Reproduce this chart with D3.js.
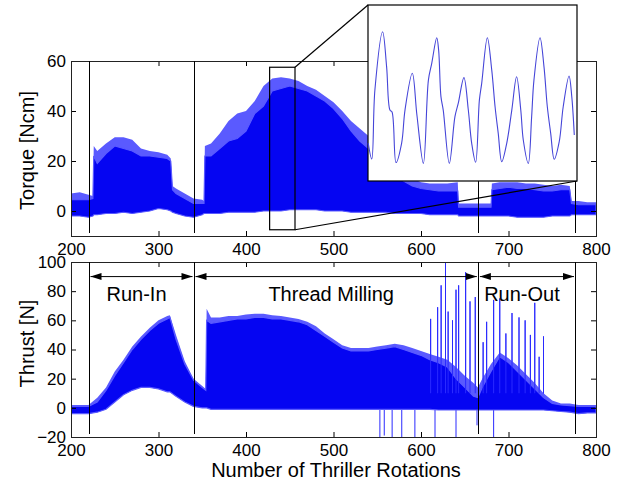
<!DOCTYPE html>
<html>
<head>
<meta charset="utf-8">
<script src="https://cdn.jsdelivr.net/npm/d3@7"></script>
<style>
body { margin: 0; background: #fff; }
svg text { font-family: "Liberation Sans", Arial, sans-serif; fill: #000; }
</style>
</head>
<body>
<div id="chart"></div>
<script>
// torque signal envelope (Ncm)
const torqueRot  = [200, 210, 220, 225, 226, 230, 240, 250, 260, 270, 280, 290, 300, 310, 314, 316, 320, 330, 340, 350, 352, 353, 360, 370, 380, 390, 400, 410, 420, 430, 440, 450, 460, 470, 480, 490, 500, 510, 520, 530, 540, 550, 560, 570, 580, 590, 600, 610, 620, 630, 642, 643, 660, 670, 680, 681, 690, 700, 710, 720, 730, 740, 750, 760, 770, 772, 780, 790, 800];
const torqueHi   = [4.5, 4.5, 4.5, 5, 22, 19, 23, 26, 25, 24, 22, 22, 21.5, 21, 20, 8.5, 7, 5, 3, 3, 3, 22, 22, 25, 28, 29, 32, 39, 42, 48, 49, 50, 49, 48, 46, 44, 41, 37, 32, 28, 25, 21, 18, 15, 12, 10, 9, 8.5, 8, 8, 8, 1.5, 1.5, 1.5, 1.5, 8.5, 9, 9.5, 9, 9, 8.5, 8, 8, 8.5, 8.5, 3, 2.5, 2.5, 2.5];
const torquePeak = [7, 7.5, 6.5, 6, 26, 24, 27, 29.5, 29.5, 28.5, 25, 24, 23.5, 22.5, 21, 10, 9, 7, 5, 4.5, 4, 26, 27, 31, 36, 39, 40, 44, 50, 53, 53.5, 53, 52, 50, 48.5, 46, 43.5, 40, 36, 33, 30, 25, 22, 18, 15, 13, 11.5, 11, 11, 11, 11.5, 3, 3, 3, 3, 11, 11.5, 11.5, 11.5, 11, 11, 10.5, 10, 10.5, 10, 4, 4, 3.5, 3.5];
const torqueLo   = [-2, -2, -2.5, -2, -1.5, -1.5, -1, -1, -0.5, -1, -0.5, 0, 1, 0.5, 0, -0.5, -1, -2, -2.5, -1.5, -1, -1, -1, -1, -0.5, -0.5, -0.5, -0.5, 0, 0, 0, 0.5, 0.5, 0.5, 0.5, 0, 0, 0, -0.5, -0.5, -0.5, -0.5, -0.5, -1, -1, -1, -1, -1.5, -1.5, -1.5, -1.5, -2, -2, -2, -2, -2, -2, -2, -2.5, -2.5, -2.5, -2.5, -2, -2, -2, -1.5, -1.5, -1.5, -1.5];

// thrust signal envelope (N)
const thrustRot  = [200, 210, 220, 230, 240, 250, 260, 270, 280, 290, 300, 310, 313, 320, 330, 340, 350, 354, 355, 360, 370, 380, 390, 400, 410, 420, 430, 440, 450, 460, 470, 480, 490, 500, 510, 520, 530, 540, 550, 560, 570, 580, 590, 600, 610, 620, 630, 640, 650, 660, 665, 670, 680, 690, 700, 710, 720, 730, 740, 750, 760, 770, 780, 790, 800];
const thrustHi   = [1, 1, 1, 4, 12, 22, 31, 40, 47, 53, 58, 61, 62, 47, 30, 19, 14, 12, 60, 58, 59, 60, 61, 61, 62, 62, 61, 61, 60, 59, 57, 53, 49, 45, 41, 39, 39, 39, 40, 41, 42, 40, 38, 36, 33, 31, 28, 20, 14, 8, 7, 14, 25, 35, 31, 25, 19, 13, 7, 3, 2, 1.5, 1, 1, 1];
const thrustPeak = [2, 2, 2, 7, 14, 25, 33, 42, 49, 55, 60, 63, 63.5, 50, 32, 20, 15, 13, 68, 62, 62, 63, 63, 64, 64.5, 64.5, 63.5, 63, 62, 61, 59, 56, 51, 47, 43, 41, 41, 41, 42, 43, 44, 43, 41, 39, 37, 35, 33, 28, 22, 17, 14, 20, 30, 38, 34, 29, 23, 17, 10, 5, 3, 3, 2, 2, 2];
const thrustLo   = [-4, -4, -4, -3, -1, 4, 9, 12, 14, 14, 13, 11, 11, 8, 4, 1, 0, 0, 0, -1, -1, -1, -1, -1, -1, -1, -1, -1, -1, -1, -1, -1, -1, -1, -1, -1, -1, -1, -1, -1, -1, -1, -1, -1, -1, -1.5, -1.5, -1.5, -1.5, -1.5, -1.5, -1.5, -1.5, -1.5, -1.5, -1.5, -1.5, -1.5, -1.5, -2, -2.5, -3, -4, -3.5, -3.5];

// isolated thrust spikes (N)
const spikeRot = [611, 619, 623, 628, 631, 636, 640, 643, 651, 656, 662, 671, 675, 683, 690, 697, 704, 712, 719, 725, 730, 735, 740];
const spikeVal = [61, 69, 84, 100, 66, 60, 81, 84, 93, 73, 76, 45, 59, 74, 75, 51, 65, 62, 60, 50, 72, 35, 49];
const dipRot = [553, 558, 567, 578, 593, 616, 640, 664, 683];
const dipVal = [-20, -19, -20, -20, -20, -20, -20, -12, -20];

// process phases
const phaseEdges = [220, 340, 665, 776];
const phaseNames = ["Run-In", "Thread Milling", "Run-Out"];

// zoomed window and the inset curve (torque, Ncm, vs sample)
const zoomRot = [427, 456];
const zoomTorque = [-7.5, 57.5];
const insetRange = [-7, 57];
const insetT = [0.1, 1.8, 3.3, 7.0, 8.9, 10.5, 11.5, 13.4, 16.1, 17.7, 21.2, 23.4, 26.5, 28.9, 30.5, 32.9, 33.8, 34.9, 36.0, 38.9, 41.6, 43.2, 45.9, 48.0, 49.6, 51.5, 53.3, 54.4, 57.1, 59.2, 60.8, 62.3, 64.0, 66.4, 68.8, 71.1, 73.1, 74.3, 76.7, 78.3, 79.4, 82.3, 84.2, 85.8, 87.4, 89.1, 91.5, 93.4, 96.2, 97.5, 98.7];
const insetV = [6.8, 1.0, 26.1, 47.3, 34.6, 18.8, 18.1, -0.3, 6.8, 18.8, 32.2, 17.0, -0.6, 29.7, 35.8, 45.1, 40.6, 23.7, 18.8, -0.6, 16.4, 21.3, 30.6, 18.8, 6.8, -0.2, 22.5, 28.5, 45.1, 33.4, 20.0, 10.4, 0.0, 6.8, 18.8, 30.9, 18.8, 7.9, -0.6, 16.4, 29.7, 45.1, 34.6, 20.0, 10.4, 0.9, 7.3, 20.0, 31.2, 23.7, 9.7];

const rotTicks = [200, 300, 400, 500, 600, 700, 800];
const torqueTicks = [0, 20, 40, 60];
const thrustTicks = [-20, 0, 20, 40, 60, 80, 100];

const W = 624, H = 485;
const core = "#0505f2", fringe = "#5a5aff";

const svg = d3.select("#chart").append("svg")
    .attr("width", W)
    .attr("height", H);

svg.append("rect").attr("width", W).attr("height", H).attr("fill", "#fff");

const x = d3.scaleLinear().domain([200, 800]).range([71, 596]);
const yT = d3.scaleLinear().domain([-10, 60]).range([236, 61]);
const yB = d3.scaleLinear().domain([-20, 100]).range([437, 262]);

const torque = torqueRot.map((r, i) => ({ r, hi: torqueHi[i], pk: torquePeak[i], lo: torqueLo[i] }));
const thrust = thrustRot.map((r, i) => ({ r, hi: thrustHi[i], pk: thrustPeak[i], lo: thrustLo[i] }));

function clip(id, y) {
    svg.append("clipPath").attr("id", id)
        .append("rect")
        .attr("x", x.range()[0]).attr("y", y.range()[1])
        .attr("width", x.range()[1] - x.range()[0])
        .attr("height", y.range()[0] - y.range()[1]);
}
clip("clipT", yT);
clip("clipB", yB);

function band(g, rows, y) {
    g.append("path")
        .datum(rows)
        .attr("fill", fringe)
        .attr("d", d3.area().x(d => x(d.r)).y0(d => y(d.lo)).y1(d => y(d.pk)));
    g.append("path")
        .datum(rows)
        .attr("fill", core)
        .attr("stroke", fringe)
        .attr("stroke-width", 1.2)
        .attr("d", d3.area().x(d => x(d.r)).y0(d => y(d.lo)).y1(d => y(d.hi)));
}

function axes(y, ticks) {
    const [x0, x1] = x.range();
    const [y0, y1] = y.range();
    svg.append("g")
        .attr("transform", `translate(0,${y0})`)
        .call(d3.axisBottom(x).tickValues(rotTicks).tickSizeInner(-5).tickSizeOuter(0).tickPadding(7))
        .call(g => g.select(".domain").remove());
    svg.append("g")
        .attr("transform", `translate(0,${y1})`)
        .call(d3.axisTop(x).tickValues(rotTicks).tickSizeInner(-5).tickSizeOuter(0).tickFormat(""))
        .call(g => g.select(".domain").remove());
    svg.append("g")
        .attr("transform", `translate(${x0},0)`)
        .call(d3.axisLeft(y).tickValues(ticks).tickSizeInner(-5).tickSizeOuter(0).tickPadding(5))
        .call(g => g.select(".domain").remove());
    svg.append("g")
        .attr("transform", `translate(${x1},0)`)
        .call(d3.axisRight(y).tickValues(ticks).tickSizeInner(-5).tickSizeOuter(0).tickFormat(""))
        .call(g => g.select(".domain").remove());
    svg.selectAll(".tick text").attr("font-size", 17).attr("font-family", "Liberation Sans, Arial, sans-serif");
    svg.selectAll(".tick line").attr("stroke", "#000");
    svg.append("rect")
        .attr("x", x0 + 0.5).attr("y", y1 + 0.5)
        .attr("width", x1 - x0).attr("height", y0 - y1)
        .attr("fill", "none").attr("stroke", "#222").attr("stroke-width", 1);
}

function edges(y) {
    svg.append("g").selectAll("line")
        .data(phaseEdges)
        .join("line")
        .attr("x1", d => Math.round(x(d)) + 0.5).attr("x2", d => Math.round(x(d)) + 0.5)
        .attr("y1", y.range()[1]).attr("y2", y.range()[0] - 3)
        .attr("stroke", "#000").attr("stroke-width", 1);
}

// ---- top panel: torque
const gT = svg.append("g").attr("clip-path", "url(#clipT)");
band(gT, torque, yT);
axes(yT, torqueTicks);
edges(yT);

// ---- bottom panel: thrust
const gB = svg.append("g").attr("clip-path", "url(#clipB)");
gB.append("g").selectAll("line")
    .data(spikeRot.map((r, i) => ({ r, v: spikeVal[i] })).concat(dipRot.map((r, i) => ({ r, v: dipVal[i] }))))
    .join("line")
    .attr("x1", d => x(d.r)).attr("x2", d => x(d.r))
    .attr("y1", yB(0)).attr("y2", d => yB(d.v))
    .attr("stroke", "#2a2aff").attr("stroke-width", 1);
band(gB, thrust, yB);
gB.append("g").selectAll("line")
    .data(spikeRot.map((r, i) => ({ r, v: spikeVal[i] })))
    .join("line")
    .attr("x1", d => x(d.r)).attr("x2", d => x(d.r))
    .attr("y1", yB(10)).attr("y2", d => yB(d.v))
    .attr("stroke", "#2a2aff").attr("stroke-width", 1);
axes(yB, thrustTicks);
edges(yB);

// phase arrows and names
const ay = yB(90);
phaseNames.forEach((name, i) => {
    const a = x(phaseEdges[i]) + 2, b = x(phaseEdges[i + 1]) - 1;
    svg.append("line").attr("x1", a).attr("x2", b).attr("y1", ay).attr("y2", ay)
        .attr("stroke", "#000").attr("stroke-width", 1);
    svg.append("path").attr("d", `M${a},${ay}l11,-3.5v7z`).attr("fill", "#000");
    svg.append("path").attr("d", `M${b},${ay}l-11,-3.5v7z`).attr("fill", "#000");
    svg.append("text")
        .attr("x", (a + b) / 2 - 5).attr("y", yB(73))
        .attr("text-anchor", "middle")
        .attr("font-size", 20)
        .text(name);
});

// ---- zoom box, connectors and inset
const zx0 = x(zoomRot[0]), zx1 = x(zoomRot[1]);
const zy0 = yT(zoomTorque[1]), zy1 = yT(zoomTorque[0]);
const ix = d3.scaleLinear().domain([0, 100]).range([368, 577]);
const iy = d3.scaleLinear().domain(insetRange).range([181, 5]);

svg.append("rect")
    .attr("x", zx0).attr("y", zy0).attr("width", zx1 - zx0).attr("height", zy1 - zy0)
    .attr("fill", "none").attr("stroke", "#000").attr("stroke-width", 1.2);
svg.append("line").attr("x1", zx1).attr("y1", zy0).attr("x2", ix.range()[0]).attr("y2", iy.range()[1])
    .attr("stroke", "#000").attr("stroke-width", 1.2);
svg.append("line").attr("x1", zx1).attr("y1", zy1).attr("x2", ix.range()[1]).attr("y2", iy.range()[0])
    .attr("stroke", "#000").attr("stroke-width", 1.2);

svg.append("rect")
    .attr("x", ix.range()[0]).attr("y", iy.range()[1])
    .attr("width", ix.range()[1] - ix.range()[0]).attr("height", iy.range()[0] - iy.range()[1])
    .attr("fill", "#fff").attr("stroke", "#000").attr("stroke-width", 1.2);

svg.append("path")
    .datum(insetT.map((t, i) => [t, insetV[i]]))
    .attr("fill", "none")
    .attr("stroke", "#4545d8")
    .attr("stroke-width", 1.1)
    .attr("d", d3.line().curve(d3.curveCatmullRom).x(d => ix(d[0])).y(d => iy(d[1])));

// axis titles
svg.append("text")
    .attr("transform", `translate(34,${(yT.range()[0] + yT.range()[1]) / 2 + 2}) rotate(-90)`)
    .attr("text-anchor", "middle").attr("font-size", 20)
    .text("Torque [Ncm]");
svg.append("text")
    .attr("transform", `translate(34,${(yB.range()[0] + yB.range()[1]) / 2 - 6}) rotate(-90)`)
    .attr("text-anchor", "middle").attr("font-size", 20)
    .text("Thrust [N]");
svg.append("text")
    .attr("x", 336).attr("y", 477)
    .attr("text-anchor", "middle").attr("font-size", 20)
    .text("Number of Thriller Rotations");
</script>
</body>
</html>
